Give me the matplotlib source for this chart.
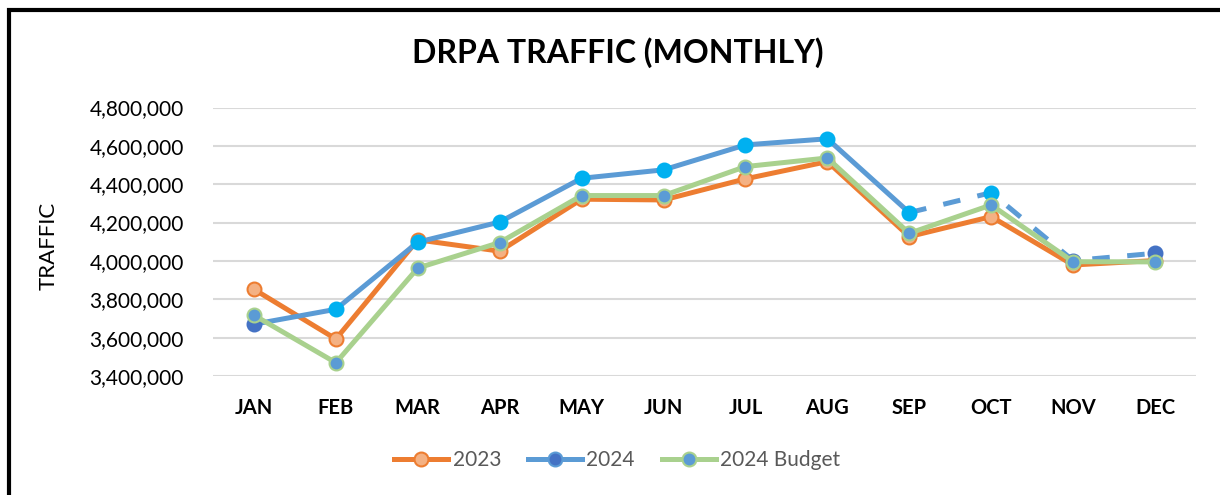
import matplotlib
matplotlib.use("Agg")
import matplotlib.pyplot as plt
from matplotlib.lines import Line2D
from matplotlib.patches import Rectangle
from matplotlib.ticker import FuncFormatter

plt.rcParams['font.family'] = ['Lato', 'DejaVu Sans']

# monthly traffic values
months = ["JAN", "FEB", "MAR", "APR", "MAY", "JUN",
          "JUL", "AUG", "SEP", "OCT", "NOV", "DEC"]
traffic_2023 = [3852000, 3593000, 4110000, 4051000, 4322000, 4318000,
                4428000, 4518000, 4127000, 4231000, 3979000, 4002000]
traffic_2024 = [3670000, 3748000, 4098000, 4203000, 4431000, 4475000,
                4605000, 4637000, 4252000, 4356000, 4002000, 4040000]
budget_2024 = [3717000, 3469000, 3963000, 4096000, 4341000, 4341000,
               4492000, 4537000, 4144000, 4292000, 3996000, 3995000]
actual_months = 9  # 2024 line is solid through SEP, dashed after

ORANGE = "#ED7D31"
ORANGE_LT = "#F4B183"
BLUE = "#5B9BD5"
BLUE_DK = "#4472C4"
CYAN = "#00B0F0"
GREEN = "#A9D18E"

fig = plt.figure(figsize=(12.2, 4.95), dpi=100)
ax = fig.add_axes([0.1746, 0.2404, 0.8057, 0.5424])

x = list(range(len(months)))
lw = 3.6
ms = 10

# 2023
ax.plot(x, traffic_2023, color=ORANGE, lw=lw, marker="o", ms=ms,
        mfc=ORANGE_LT, mec=ORANGE, mew=1.5, zorder=3, solid_capstyle="round")

# 2024 - solid part then dashed part
ax.plot(x[:actual_months], traffic_2024[:actual_months], color=BLUE, lw=lw,
        zorder=4, solid_capstyle="round")
ax.plot(x[actual_months - 1:], traffic_2024[actual_months - 1:], color=BLUE,
        lw=lw, ls=(0, (3.5, 3.5)), zorder=4)
m_colors = [BLUE_DK] + [CYAN] * 9 + [BLUE_DK] * 2
for xi, yi, c in zip(x, traffic_2024, m_colors):
    ax.plot(xi, yi, marker="o", ms=ms, mfc=c, mec=c, mew=1.5, zorder=5)

# 2024 budget
ax.plot(x, budget_2024, color=GREEN, lw=lw, marker="o", ms=ms,
        mfc=BLUE, mec=GREEN, mew=1.5, zorder=6, solid_capstyle="round")

ax.set_xlim(-0.5, len(months) - 0.5)
ax.set_ylim(3400000, 4800000)
ax.set_yticks(range(3400000, 4800001, 200000))
ax.yaxis.set_major_formatter(FuncFormatter(lambda v, p: f"{int(v):,}"))
ax.set_xticks(x)
ax.set_xticklabels(months, fontweight="bold", fontsize=14.5)
ax.tick_params(axis="y", labelsize=15, length=0, pad=21)
ax.tick_params(axis="x", length=0, pad=16)
ax.grid(axis="y", color="#D9D9D9", lw=1.5)
ax.set_axisbelow(True)
for s in ax.spines.values():
    s.set_visible(False)

fig.text(0.040, 0.503, "TRAFFIC", rotation=90, fontsize=16,
         ha="center", va="center")
fig.text(0.506, 0.893, "DRPA TRAFFIC (MONTHLY)", fontsize=23,
         fontweight="bold", ha="center", va="center")

handles = [
    Line2D([], [], color=ORANGE, lw=lw, marker="o", ms=ms, mfc=ORANGE_LT,
           mec=ORANGE, mew=1.5),
    Line2D([], [], color=BLUE, lw=lw, marker="o", ms=ms, mfc=BLUE_DK,
           mec=BLUE, mew=1.5),
    Line2D([], [], color=GREEN, lw=lw, marker="o", ms=ms, mfc=BLUE,
           mec=GREEN, mew=1.5),
]
leg = fig.legend(handles, ["2023", "2024", "2024 Budget"], loc="center",
                 bbox_to_anchor=(0.506, 0.07), ncol=3, frameon=False,
                 fontsize=15, handlelength=2.6, handletextpad=0.2,
                 columnspacing=1.3)
for t in leg.get_texts():
    t.set_color("#595959")

# black frame around the chart (runs off right and bottom edges)
fig.patches.append(Rectangle((9 / 1220, -0.05), 1.1, 1 - 10 / 495 + 0.05,
                             transform=fig.transFigure, fill=False,
                             ec="black", lw=3, zorder=10))

fig.savefig("out.png", dpi=100)
